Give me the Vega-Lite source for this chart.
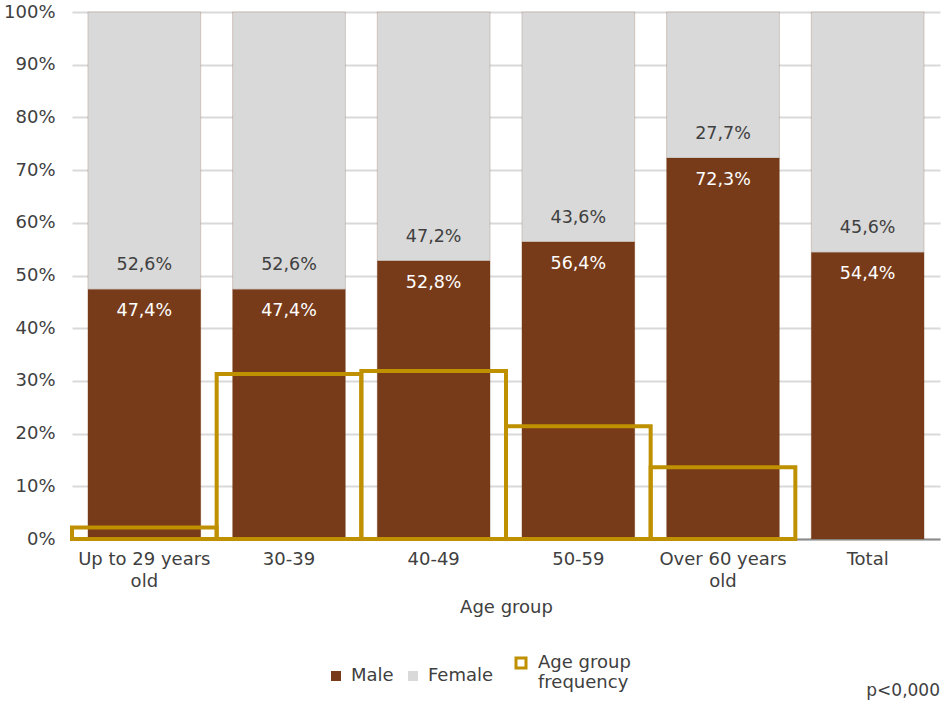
{
  "$schema": "https://vega.github.io/schema/vega-lite/v6.json",
  "width": 868,
  "height": 527,
  "autosize": "none",
  "padding": {"left": 72, "top": 12, "right": 5, "bottom": 166},
  "config": {"view": {"stroke": null}, "font": "DejaVu Sans"},
  "data": {"values": [
    {"group": "Up to 29 years old", "Male": 47.4, "Female": 52.6, "mlabel": "47,4%", "flabel": "52,6%", "freq": 2.2},
    {"group": "30-39", "Male": 47.4, "Female": 52.6, "mlabel": "47,4%", "flabel": "52,6%", "freq": 31.3},
    {"group": "40-49", "Male": 52.8, "Female": 47.2, "mlabel": "52,8%", "flabel": "47,2%", "freq": 31.9},
    {"group": "50-59", "Male": 56.4, "Female": 43.6, "mlabel": "56,4%", "flabel": "43,6%", "freq": 21.4},
    {"group": "Over 60 years old", "Male": 72.3, "Female": 27.7, "mlabel": "72,3%", "flabel": "27,7%", "freq": 13.6},
    {"group": "Total", "Male": 54.4, "Female": 45.6, "mlabel": "54,4%", "flabel": "45,6%", "freq": null}
  ]},
  "layer": [
    {
      "layer": [
        {
          "transform": [{"fold": ["Male", "Female"], "as": ["sex", "pct"]}],
          "mark": {"type": "bar", "stroke": "#6a3010", "strokeWidth": 0.5, "strokeOpacity": 0.4},
          "encoding": {
            "x": {
              "field": "group", "type": "nominal", "sort": null,
              "scale": {"domain": ["Up to 29 years old", "30-39", "40-49", "50-59", "Over 60 years old", "Total"], "paddingInner": 0.22, "paddingOuter": 0.11},
              "axis": {
                "title": "Age group", "titleFontSize": 18, "titleFontWeight": "normal", "titleColor": "#404040", "titlePadding": 8,
                "labelAngle": 0, "labelFontSize": 18, "labelColor": "#404040", "labelLimit": 300, "labelLineHeight": 22, "labelPadding": 11,
                "labelExpr": "datum.label == 'Up to 29 years old' ? ['Up to 29 years', 'old'] : datum.label == 'Over 60 years old' ? ['Over 60 years', 'old'] : datum.label",
                "ticks": false, "domainColor": "#8c8c8c", "domainWidth": 2, "grid": false
              }
            },
            "y": {
              "field": "pct", "type": "quantitative", "stack": "zero",
              "scale": {"domain": [0, 100], "nice": false},
              "axis": {
                "title": null, "values": [0, 10, 20, 30, 40, 50, 60, 70, 80, 90, 100],
                "labelExpr": "datum.value + '%'", "grid": true, "gridColor": "#D9D9D9", "gridWidth": 2,
                "domain": false, "ticks": false, "labelFontSize": 18, "labelColor": "#404040", "labelPadding": 17
              }
            },
            "color": {
              "field": "sex", "type": "nominal",
              "scale": {"domain": ["Male", "Female"], "range": ["#783B19", "#D9D9D9"]},
              "legend": {
                "orient": "none", "legendX": 255, "legendY": 655, "direction": "horizontal", "title": null,
                "symbolType": "square", "symbolSize": 100, "symbolStrokeWidth": 0, "labelFontSize": 18, "labelColor": "#404040", "labelOffset": 6, "columnPadding": 10
              }
            },
            "order": {"field": "sex", "sort": "descending"}
          }
        },
        {
          "mark": {"type": "text", "dy": 22, "color": "white", "fontSize": 17.5},
          "encoding": {
            "x": {"field": "group", "type": "nominal", "sort": null},
            "y": {"field": "Male", "type": "quantitative"},
            "text": {"field": "mlabel"}
          }
        },
        {
          "mark": {"type": "text", "dy": -24, "color": "#404040", "fontSize": 17.5},
          "encoding": {
            "x": {"field": "group", "type": "nominal", "sort": null},
            "y": {"field": "Male", "type": "quantitative"},
            "text": {"field": "flabel"}
          }
        }
      ]
    },
    {
      "transform": [{"filter": "datum.freq != null"}],
      "mark": {"type": "bar", "fill": "transparent", "strokeWidth": 4, "strokeJoin": "miter"},
      "encoding": {
        "x": {
          "field": "group", "type": "nominal", "sort": null,
          "scale": {"domain": ["Up to 29 years old", "30-39", "40-49", "50-59", "Over 60 years old", "Total"], "paddingInner": 0, "paddingOuter": 0},
          "axis": null
        },
        "y": {"field": "freq", "type": "quantitative", "stack": null, "axis": {"title": null}},
        "stroke": {
          "datum": "Age group frequency", "type": "nominal",
          "scale": {"domain": ["Age group frequency"], "range": ["#BF9000"]},
          "legend": {
            "orient": "none", "legendX": 440, "legendY": 642, "title": null,
            "symbolType": "square", "symbolSize": 100, "symbolStrokeWidth": 3, "symbolFillColor": "white",
            "labelFontSize": 18, "labelColor": "#404040", "labelOffset": 8,
            "labelExpr": "['Age group', 'frequency']"
          }
        }
      }
    }
  ],
  "resolve": {"scale": {"x": "independent"}},
  "title": {"text": "p<0,000", "orient": "bottom", "anchor": "end", "fontSize": 17, "fontWeight": "normal", "color": "#404040", "offset": -9}
}
